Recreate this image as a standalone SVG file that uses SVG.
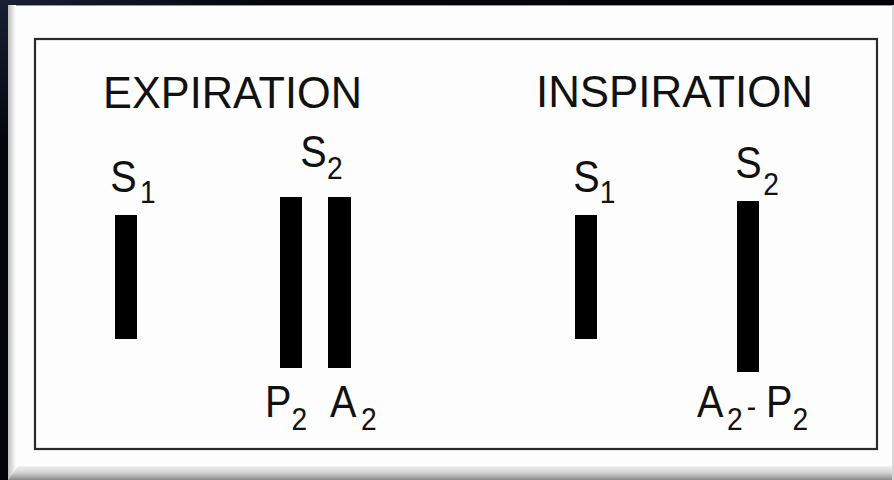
<svg xmlns="http://www.w3.org/2000/svg" width="894" height="480" viewBox="0 0 894 480">
  <defs>
    <linearGradient id="leftBevel" x1="0" y1="0" x2="1" y2="0">
      <stop offset="0" stop-color="#bdbdbd"/>
      <stop offset="1" stop-color="#ffffff"/>
    </linearGradient>
    <linearGradient id="bottomBevel" x1="0" y1="0" x2="0" y2="1">
      <stop offset="0" stop-color="#f2f2f2"/>
      <stop offset="0.5" stop-color="#d0d0d0"/>
      <stop offset="1" stop-color="#8a8a8a"/>
    </linearGradient>
    <linearGradient id="darkBg" x1="0" y1="0" x2="1" y2="1">
      <stop offset="0" stop-color="#1a1f33"/>
      <stop offset="0.15" stop-color="#05060c"/>
      <stop offset="1" stop-color="#000000"/>
    </linearGradient>
  </defs>
  <style>
    .lbl { font-family: "Liberation Sans", Arial, sans-serif; font-size: 45px; fill: #111; }
    .sub { font-size: 32px; }
    .bar { fill: #000; }
  </style>

  <!-- dark surround -->
  <rect x="0" y="0" width="894" height="480" fill="url(#darkBg)"/>
  <!-- panel -->
  <rect x="8" y="5" width="886" height="475" fill="#fdfdfd"/>
  <rect x="8" y="5" width="886" height="1" fill="#9a9a9a"/>
  <rect x="8" y="5" width="8" height="475" fill="url(#leftBevel)"/>
  <polygon points="8,480 18,466 894,466 894,480" fill="url(#bottomBevel)"/>
  <rect x="892" y="5" width="2" height="475" fill="#d8d8d8"/>

  <!-- frame -->
  <rect x="35" y="39" width="842" height="410" fill="none" stroke="#2b2b2b" stroke-width="2.2"/>

  <!-- titles -->
  <text class="lbl" x="103" y="108" textLength="259" lengthAdjust="spacingAndGlyphs">EXPIRATION</text>
  <text class="lbl" x="536" y="107" textLength="277" lengthAdjust="spacingAndGlyphs">INSPIRATION</text>

  <g id="exp-s1">
    <rect class="bar" x="115" y="215" width="22" height="124"/>
    <text class="lbl" transform="translate(110.2,0) scale(0.88,1)"><tspan x="0" y="192">S</tspan><tspan class="sub" x="33.8" y="203">1</tspan></text>
  </g>

  <g id="exp-s2">
    <text class="lbl" transform="translate(300.2,0) scale(0.88,1)"><tspan x="0" y="167">S</tspan><tspan class="sub" x="30.6" y="179">2</tspan></text>
  </g>

  <g id="exp-p2">
    <rect class="bar" x="280" y="197" width="22" height="171"/>
    <text class="lbl" transform="translate(264.9,0) scale(0.88,1)"><tspan x="0" y="417">P</tspan><tspan class="sub" x="30.2" y="430">2</tspan></text>
  </g>

  <g id="exp-a2">
    <rect class="bar" x="328" y="197" width="23" height="171"/>
    <text class="lbl" transform="translate(330,0) scale(0.88,1)"><tspan x="0" y="417">A</tspan><tspan class="sub" x="35.3" y="430">2</tspan></text>
  </g>

  <g id="insp-s1">
    <rect class="bar" x="575" y="215" width="22" height="124"/>
    <text class="lbl" transform="translate(573.2,0) scale(0.88,1)"><tspan x="0" y="192">S</tspan><tspan class="sub" x="30.2" y="203">1</tspan></text>
  </g>

  <g id="insp-s2">
    <rect class="bar" x="737" y="201" width="22" height="171"/>
    <text class="lbl" transform="translate(735.2,0) scale(0.88,1)"><tspan x="0" y="178">S</tspan><tspan class="sub" x="31.9" y="195">2</tspan></text>
  </g>

  <g id="insp-a2p2">
    <text class="lbl" transform="translate(697,0) scale(0.88,1)"><tspan x="0" y="417">A</tspan><tspan class="sub" x="34.2" y="430">2</tspan><tspan class="sub" x="56.6" y="417">-</tspan><tspan x="78.3" y="417">P</tspan><tspan class="sub" x="108.5" y="430">2</tspan></text>
  </g>
</svg>
